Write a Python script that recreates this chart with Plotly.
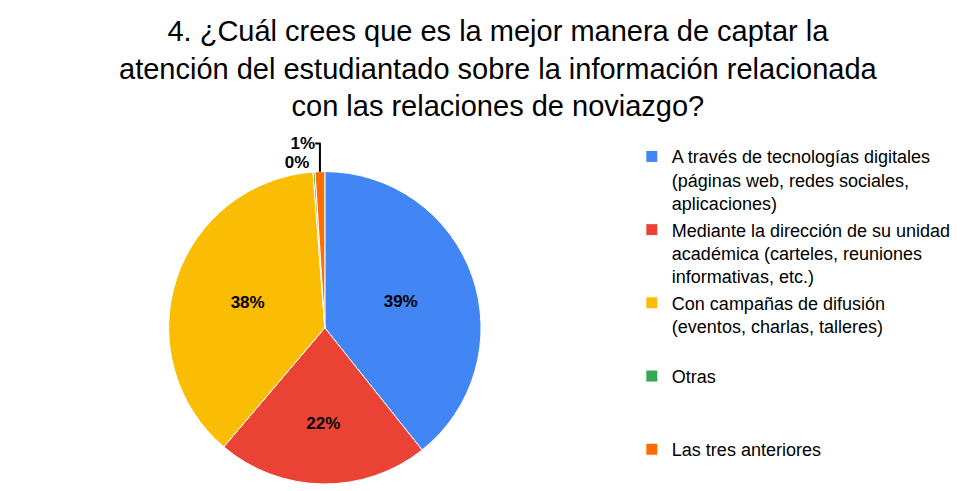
import plotly.graph_objects as go

categories = [
    "A través de tecnologías digitales<br>(páginas web, redes sociales,<br>aplicaciones)",
    "Mediante la dirección de su unidad<br>académica (carteles, reuniones<br>informativas, etc.)",
    "Con campañas de difusión<br>(eventos, charlas, talleres)<br>\u00a0",
    "Otras<br>\u00a0<br>\u00a0",
    "Las tres anteriores",
]
values = [39.3, 21.9, 37.6, 0.2, 1.0]
colors = ["#4285F4", "#EA4335", "#FBBC04", "#34A853", "#FF6D01"]
text_positions = ["inside", "inside", "inside", "outside", "outside"]

title_text = ("4. ¿Cuál crees que es la mejor manera de captar la<br>"
              "atención del estudiantado sobre la información relacionada<br>"
              "con las relaciones de noviazgo?")

FONT = "Liberation Sans, Arial, sans-serif"

fig = go.Figure(go.Pie(
    labels=categories,
    values=values,
    sort=False,
    direction="clockwise",
    rotation=0,
    marker=dict(colors=colors, line=dict(color="white", width=1)),
    texttemplate="%{percent:.0%}",
    textposition=text_positions,
    textfont=dict(family=FONT, size=17, color="black", weight="bold"),
    insidetextorientation="horizontal",
    hoverinfo="label+percent",
    domain=dict(x=[0.065, 0.565], y=[0.02, 0.91]),
))

fig.add_annotation(
    text=title_text,
    xref="paper", yref="paper",
    x=0.5, xanchor="center",
    y=1.0, yanchor="bottom",
    yshift=16,
    showarrow=False,
    align="center",
    font=dict(family=FONT, size=29, color="black"),
)

fig.update_layout(
    width=968, height=491,
    paper_bgcolor="white",
    plot_bgcolor="white",
    margin=dict(l=10, r=10, t=132, b=8),
    legend=dict(
        x=0.643, xanchor="left",
        y=1.005, yanchor="top",
        valign="top",
        maxheight=0.98,
        font=dict(family=FONT, size=18, color="black"),
        bgcolor="rgba(0,0,0,0)",
    ),
    showlegend=True,
)

fig.write_html("out.html")
